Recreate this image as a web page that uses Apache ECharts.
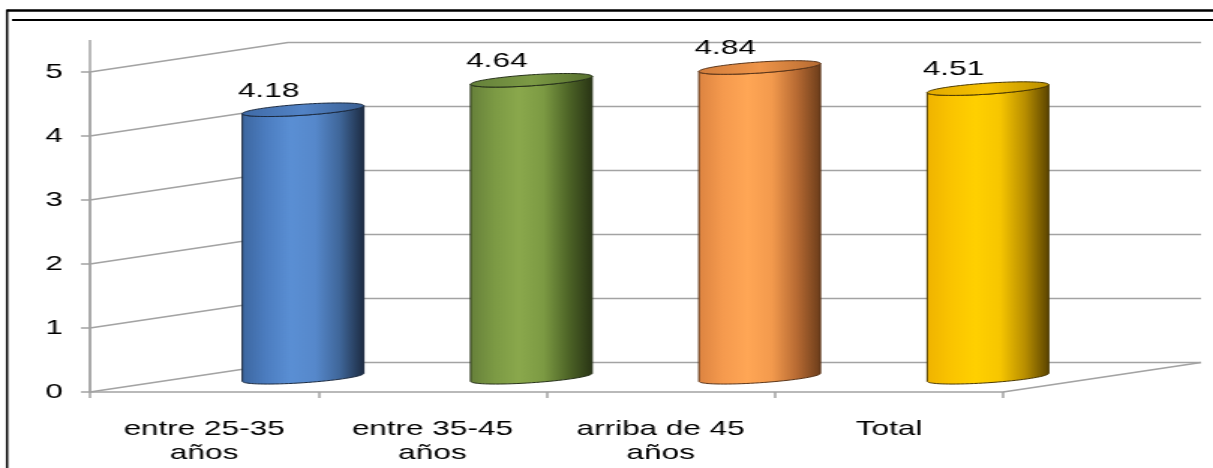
<!DOCTYPE html>
<html>
<head>
<meta charset="utf-8">
<script src="https://cdn.jsdelivr.net/npm/echarts@6/dist/echarts.min.js"></script>
<style>
  html, body { margin: 0; padding: 0; background: #fff; overflow: hidden; }
  /* chart is laid out narrow and stretched horizontally to the window width */
  #chart { width: 809px; height: 468px; transform: scaleX(1.49938); transform-origin: 0 0; }
</style>
</head>
<body>
<div id="chart"></div>
<script>
// ---- data ----
const categories = ['entre 25-35\naños', 'entre 35-45\naños', 'arriba de 45\naños', 'Total'];
const values = [4.18, 4.64, 4.84, 4.51];
const yTicks = [0, 1, 2, 3, 4, 5];
const yMin = 0, yMax = 5, yStep = 1;
const wallTop = 5.5;   // the left wall edge rises a little above the last gridline

// ---- styles ----
const FONT = "'Liberation Sans', Arial, sans-serif";
const GRID_COLOR = '#a3a3a3';
const DX = 132, DY = -29.5;   // depth offset of the back wall (oblique projection)
const palettes = [
  { body: ['#3c669f', '#4c7dc0', '#5a8fd4', '#5688cb', '#3f6699', '#1c2a40'], top: ['#3f6aa6', '#5283c6', '#3a5f92'], line: '#1b2a40' },
  { body: ['#66803a', '#7c9a44', '#8aa84c', '#7c9a43', '#4e6527', '#283314'], top: ['#64803a', '#7c9a45', '#566f2e'], line: '#27321a' },
  { body: ['#dc8340', '#f59a4e', '#ffa655', '#f39a4d', '#b86b33', '#6a3c1a'], top: ['#d27d3c', '#ee9448', '#b56a32'], line: '#5a3418' },
  { body: ['#efb300', '#fac400', '#ffd000', '#f7c600', '#b98f00', '#5a4300'], top: ['#e2aa00', '#f6c200', '#b88d00'], line: '#4a3800' }
];

function grad(colors) {
  const n = colors.length - 1;
  const stops = colors.map((c, i) => ({ offset: i / n, color: c }));
  return new echarts.graphic.LinearGradient(0, 0, 1, 0, stops);
}

// points on a sheared ellipse (cylinder rim seen from slightly above)
function rim(cx, cy, a, b, s, from, to, n) {
  const pts = [];
  for (let i = 0; i <= n; i++) {
    const t = from + (to - from) * i / n;
    pts.push([cx + a * Math.cos(t), cy - s * Math.cos(t) + b * Math.sin(t)]);
  }
  return pts;
}

const chart = echarts.init(document.getElementById('chart'), null, { renderer: 'canvas' });

const option = {
  animation: false,
  backgroundColor: '#fff',
  textStyle: { fontFamily: FONT },
  grid: { left: 60, right: 140, top: 72, bottom: 76 },
  xAxis: {
    type: 'category',
    data: categories,
    boundaryGap: true,
    axisLine: { show: true, lineStyle: { color: GRID_COLOR, width: 1.5 } },
    axisTick: { show: true, length: 6, interval: 0, lineStyle: { color: GRID_COLOR, width: 1.5 } },
    axisLabel: { interval: 0, color: '#000', fontSize: 21, lineHeight: 24, margin: 25, fontFamily: FONT },
    splitLine: { show: false }
  },
  yAxis: {
    type: 'value',
    min: yMin, max: yMax, interval: yStep,
    axisLine: { show: true, lineStyle: { color: GRID_COLOR, width: 1.5 } },
    axisTick: { show: true, length: 6, lineStyle: { color: GRID_COLOR, width: 1.5 } },
    axisLabel: { color: '#000', fontSize: 21, margin: 18, fontFamily: FONT },
    splitLine: { show: false }
  },
  graphic: [
    { type: 'line', silent: true, z: 100, shape: { x1: 4.7, y1: 10.5, x2: 809, y2: 10.5 }, style: { stroke: '#000', lineWidth: 2.6 } },
    { type: 'line', silent: true, z: 100, shape: { x1: 8, y1: 20, x2: 809, y2: 20 }, style: { stroke: '#000', lineWidth: 2 } },
    { type: 'line', silent: true, z: 100, shape: { x1: 4.7, y1: 9.5, x2: 4.7, y2: 468 }, style: { stroke: '#000', lineWidth: 1.5 } }
  ],
  series: [
    {
      // side wall, back wall and floor lines
      type: 'custom',
      clip: false,
      silent: true,
      z: 1,
      data: [[0, 0]],
      renderItem: function (params, api) {
        const cs = params.coordSys;
        const x0 = cs.x, x1 = cs.x + cs.width;
        const y0 = api.coord([0, yMin])[1];
        const st = { stroke: GRID_COLOR, lineWidth: 1.5, fill: null };
        const children = [];
        yTicks.forEach(v => {
          const y = api.coord([0, v])[1];
          children.push({ type: 'polyline', shape: { points: [[x0, y], [x0 + DX, y + DY], [x1 + DX, y + DY]] }, style: st });
        });
        children.push({ type: 'line', shape: { x1: x1, y1: y0, x2: x1 + DX, y2: y0 + DY }, style: st });
        children.push({ type: 'line', shape: { x1: x0, y1: y0, x2: x0, y2: api.coord([0, wallTop])[1] }, style: st });
        return { type: 'group', children: children };
      }
    },
    {
      // cylinders standing halfway into the depth of the floor
      type: 'custom',
      clip: false,
      z: 5,
      data: values.map((v, i) => [i, v]),
      renderItem: function (params, api) {
        const i = api.value(0), v = api.value(1);
        const front = api.coord([i, v]);
        const base = api.coord([i, yMin]);
        const band = api.size([1, 0])[0];
        const a = band * 0.266, b = 5.5, s = 4;
        const cx = front[0] + DX / 2;
        const yTop = front[1] + DY / 2;
        const yBot = base[1] + DY / 2;
        const p = palettes[params.dataIndex % palettes.length];
        const body = rim(cx, yBot, a, b, s, 0, Math.PI, 40).concat(rim(cx, yTop, a, b, s, Math.PI, 0, 40));
        const cap = rim(cx, yTop, a, b, s, 0, Math.PI * 2, 80);
        return {
          type: 'group',
          children: [
            { type: 'polygon', shape: { points: body }, style: { fill: grad(p.body), stroke: p.line, lineWidth: 1 } },
            { type: 'polygon', shape: { points: cap }, style: { fill: grad(p.top), stroke: p.line, lineWidth: 1 } },
            {
              type: 'text',
              style: {
                x: cx - 23, y: yTop - 19,
                text: v.toFixed(2),
                fill: '#000', font: '21px ' + FONT,
                align: 'center', verticalAlign: 'middle'
              }
            }
          ]
        };
      }
    }
  ]
};

chart.setOption(option);
</script>
</body>
</html>
